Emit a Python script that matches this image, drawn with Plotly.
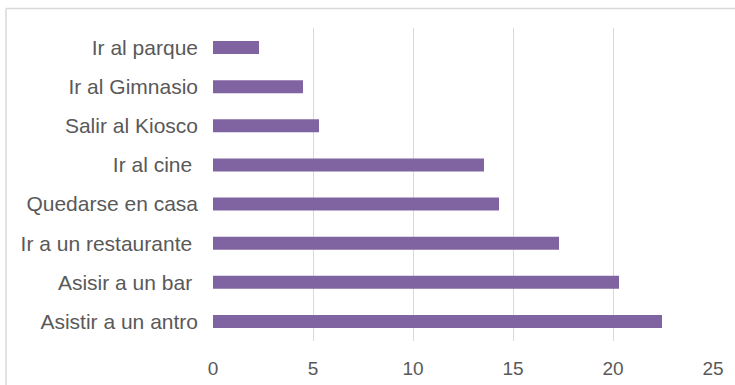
import plotly.graph_objects as go

# Activities (top to bottom as shown) and their values
categories = [
    "Ir al parque",
    "Ir al Gimnasio",
    "Salir al Kiosco",
    "Ir al cine\u00a0",
    "Quedarse en casa",
    "Ir a un restaurante\u00a0",
    "Asisir a un bar\u00a0",
    "Asistir a un antro",
]
values = [2.3, 4.5, 5.3, 13.55, 14.3, 17.3, 20.3, 22.45]
x_ticks = [0, 5, 10, 15, 20, 25]

W, H = 735, 385
L, R, T, B = 213, 22, 28, 44
plot_w = W - L - R
plot_h = H - T - B


def px_x(p):
    return (p - L) / plot_w


def px_y(p):
    return (H - B - p) / plot_h


fig = go.Figure(
    go.Bar(
        x=values,
        y=categories,
        orientation="h",
        marker=dict(color="#8064a2", line=dict(width=0)),
        hoverinfo="x+y",
    )
)

yfont = dict(family="Liberation Sans, Arial, sans-serif", size=21, color="#595959")
xfont = dict(family="Liberation Sans, Arial, sans-serif", size=19, color="#595959")

fig.update_layout(
    width=W,
    height=H,
    margin=dict(l=L, r=R, t=T, b=B, pad=0, autoexpand=False),
    paper_bgcolor="white",
    plot_bgcolor="white",
    bargap=0.67,
    showlegend=False,
    font=yfont,
    xaxis=dict(
        range=[0, 25],
        tickvals=x_ticks,
        ticktext=[str(v) for v in x_ticks],
        showgrid=True,
        gridcolor="#d9d9d9",
        gridwidth=1,
        zeroline=False,
        showline=False,
        ticks="",
        ticklabelstandoff=14,
        tickfont=xfont,
        automargin=False,
        fixedrange=True,
    ),
    yaxis=dict(
        categoryorder="array",
        categoryarray=categories[::-1],
        autorange=False,
        range=[-0.5, len(categories) - 0.5],
        showgrid=False,
        zeroline=False,
        showline=False,
        ticks="",
        ticklabelstandoff=14,
        tickfont=yfont,
        automargin=False,
        fixedrange=True,
    ),
    shapes=[
        # outer chart frame (top and left edges)
        dict(type="line", xref="paper", yref="paper",
             x0=px_x(6), x1=px_x(W + 5), y0=px_y(8.5), y1=px_y(8.5),
             line=dict(color="#d9d9d9", width=1.5)),
        dict(type="line", xref="paper", yref="paper",
             x0=px_x(6), x1=px_x(6), y0=px_y(8.5), y1=px_y(H + 5),
             line=dict(color="#d9d9d9", width=1.5)),
    ],
)

fig.write_html("out.html")
